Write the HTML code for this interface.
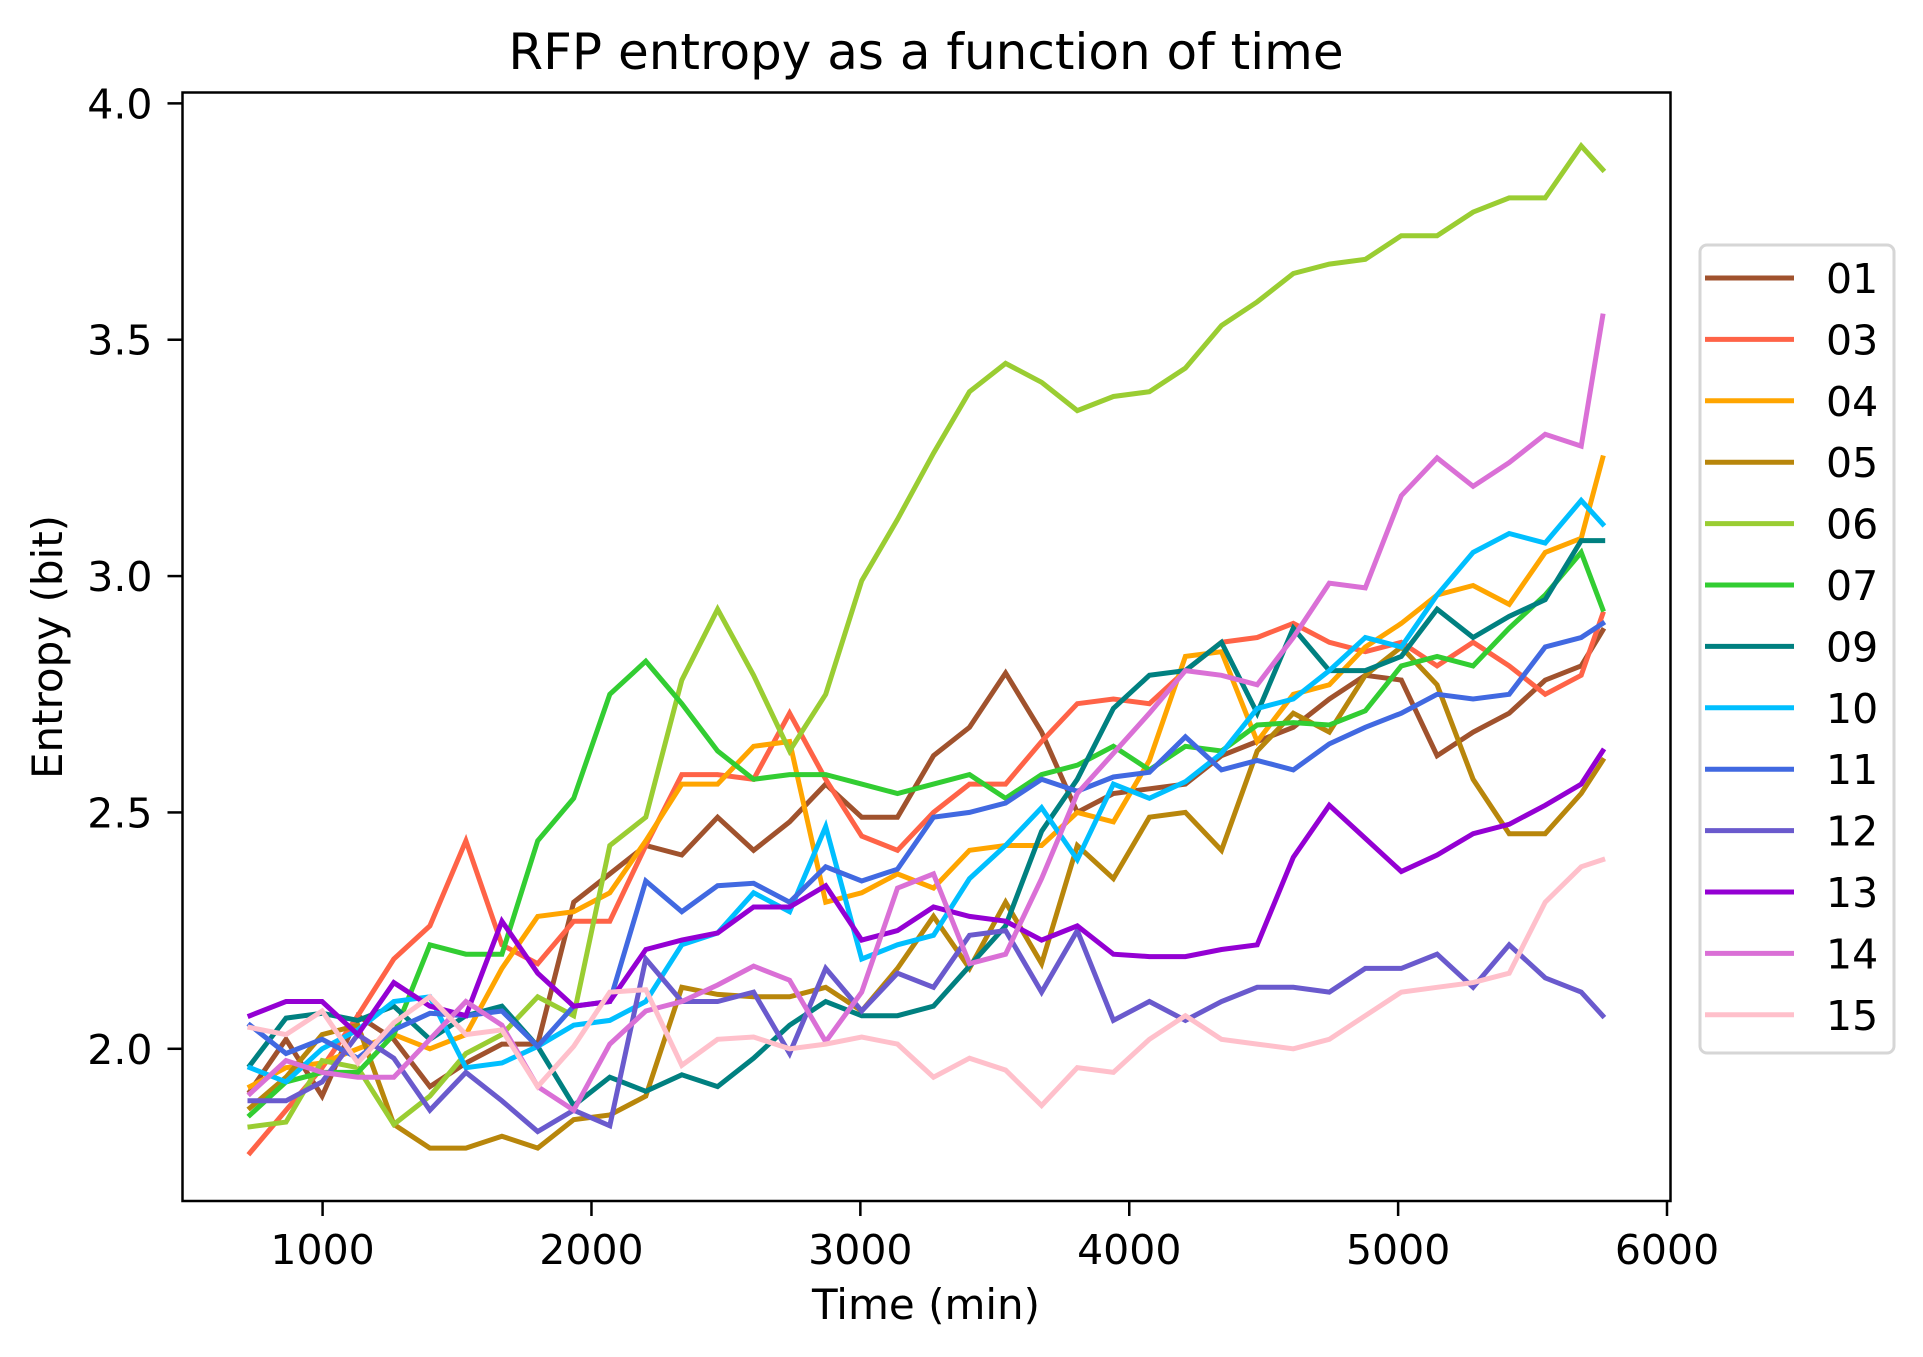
<!DOCTYPE html>
<html><head><meta charset="utf-8"><style>
html,body{margin:0;padding:0;background:#fff;}
svg{display:block;font-family:"DejaVu Sans","Liberation Sans",sans-serif;}
</style></head><body>
<svg id="chart" xmlns="http://www.w3.org/2000/svg" width="1923" height="1357" viewBox="0 0 1923 1357">
<rect width="1923" height="1357" fill="#fff"/>
<text x="926" y="69" font-size="50" text-anchor="middle">RFP entropy as a function of time</text>
<g id="plot"></g>
<text x="926" y="1319" font-size="42" text-anchor="middle">Time (min)</text>
<text x="0" y="0" font-size="42" text-anchor="middle" transform="translate(62,647) rotate(-90)">Entropy (bit)</text>
<g id="legend"></g>
</svg>
<script>
const times = [730,864,998,1131,1265,1399,1533,1667,1800,1934,2068,2202,2336,2469,2603,2737,2871,3005,3138,3272,3406,3540,3674,3807,3941,4075,4209,4343,4476,4610,4744,4878,5012,5145,5279,5413,5547,5681,5761];
const seriesNames = ["01","03","04","05","06","07","09","10","11","12","13","14","15"];
const seriesColors = ["#a0522d","#ff6347","#ffa500","#b8860b","#9acd32","#32cd32","#008080","#00bfff","#4169e1","#6a5acd","#9400d3","#da70d6","#ffc0cb"];
const s01 = [1.91,2.02,1.90,2.07,2.02,1.92,1.97,2.01,2.01,2.31,2.37,2.43,2.41,2.49,2.42,2.48,2.56,2.49,2.49,2.62,2.68,2.795,2.67,2.50,2.54,2.55,2.56,2.62,2.65,2.68,2.74,2.79,2.78,2.62,2.67,2.71,2.78,2.81,2.885];
const s03 = [1.78,1.87,1.96,2.07,2.19,2.26,2.44,2.22,2.18,2.27,2.27,2.43,2.58,2.58,2.57,2.71,2.57,2.45,2.42,2.50,2.56,2.56,2.65,2.73,2.74,2.73,2.80,2.86,2.87,2.90,2.86,2.84,2.86,2.81,2.86,2.81,2.75,2.79,2.92];
const s04 = [1.92,1.96,1.97,2.00,2.03,2.00,2.03,2.17,2.28,2.29,2.33,2.44,2.56,2.56,2.64,2.65,2.31,2.33,2.37,2.34,2.42,2.43,2.43,2.50,2.48,2.61,2.83,2.84,2.65,2.75,2.77,2.85,2.90,2.96,2.98,2.94,3.05,3.08,3.25];
const s05 = [1.875,1.94,2.03,2.05,1.84,1.79,1.79,1.815,1.79,1.85,1.86,1.90,2.13,2.115,2.11,2.11,2.13,2.08,2.17,2.28,2.17,2.31,2.18,2.43,2.36,2.49,2.50,2.42,2.63,2.71,2.67,2.79,2.85,2.77,2.57,2.455,2.455,2.54,2.61];
const s06 = [1.835,1.845,1.975,1.96,1.84,1.90,1.99,2.03,2.11,2.07,2.43,2.49,2.78,2.93,2.79,2.63,2.75,2.99,3.12,3.26,3.39,3.45,3.41,3.35,3.38,3.39,3.44,3.53,3.58,3.64,3.66,3.67,3.72,3.72,3.77,3.80,3.80,3.91,3.86];
const s07 = [1.86,1.93,1.95,1.95,2.03,2.22,2.20,2.20,2.44,2.53,2.75,2.82,2.73,2.63,2.57,2.58,2.58,2.56,2.54,2.56,2.58,2.53,2.58,2.60,2.64,2.59,2.64,2.63,2.685,2.69,2.685,2.715,2.81,2.83,2.81,2.89,2.96,3.05,2.93];
const s09 = [1.965,2.065,2.075,2.06,2.09,2.02,2.07,2.09,2.005,1.88,1.94,1.91,1.945,1.92,1.98,2.05,2.10,2.07,2.07,2.09,2.175,2.26,2.46,2.57,2.72,2.79,2.80,2.86,2.71,2.89,2.80,2.80,2.83,2.93,2.87,2.915,2.95,3.075,3.075];
const s10 = [1.96,1.93,2.00,2.04,2.10,2.11,1.96,1.97,2.005,2.05,2.06,2.10,2.22,2.245,2.33,2.29,2.47,2.19,2.22,2.24,2.36,2.43,2.51,2.40,2.56,2.53,2.565,2.625,2.72,2.74,2.80,2.87,2.85,2.96,3.05,3.09,3.07,3.16,3.11];
const s11 = [2.05,1.99,2.02,1.98,2.04,2.075,2.07,2.08,2.005,2.09,2.10,2.355,2.29,2.345,2.35,2.31,2.385,2.355,2.38,2.49,2.50,2.52,2.57,2.545,2.575,2.585,2.66,2.59,2.61,2.59,2.645,2.68,2.71,2.75,2.74,2.75,2.85,2.87,2.90];
const s12 = [1.89,1.89,1.93,2.03,1.98,1.87,1.95,1.89,1.825,1.87,1.837,2.19,2.10,2.10,2.12,1.99,2.17,2.08,2.16,2.13,2.24,2.25,2.12,2.25,2.06,2.10,2.06,2.10,2.13,2.13,2.12,2.17,2.17,2.20,2.13,2.22,2.15,2.12,2.07];
const s13 = [2.07,2.10,2.10,2.03,2.14,2.09,2.07,2.27,2.16,2.09,2.10,2.21,2.23,2.245,2.30,2.30,2.345,2.23,2.25,2.30,2.28,2.27,2.23,2.26,2.20,2.195,2.195,2.21,2.22,2.405,2.515,2.445,2.375,2.41,2.455,2.475,2.515,2.56,2.63];
const s14 = [1.905,1.975,1.95,1.94,1.94,2.02,2.10,2.05,1.92,1.87,2.01,2.08,2.10,2.135,2.175,2.145,2.015,2.12,2.34,2.37,2.18,2.20,2.36,2.54,2.625,2.71,2.80,2.79,2.77,2.87,2.985,2.975,3.17,3.25,3.19,3.24,3.30,3.275,3.55];
const s15 = [2.045,2.03,2.08,1.97,2.055,2.11,2.03,2.04,1.92,2.005,2.12,2.125,1.965,2.02,2.025,2.00,2.01,2.025,2.01,1.94,1.98,1.955,1.88,1.96,1.95,2.02,2.07,2.02,2.01,2.00,2.02,2.07,2.12,2.13,2.14,2.16,2.31,2.385,2.40];
const seriesValues = [s01,s03,s04,s05,s06,s07,s09,s10,s11,s12,s13,s14,s15];
const xTicks = [1000,2000,3000,4000,5000,6000];
const yTicks = [2.0,2.5,3.0,3.5,4.0];
const yTickLabels = ["2.0","2.5","3.0","3.5","4.0"];

const NS = "http://www.w3.org/2000/svg";
const L = 182.5, R = 1670.5, T = 92.5, B = 1201;
const xMin = 479, xMax = 6013, yMin = 1.678, yMax = 4.023;
function xs(v){ return L + (v - xMin) / (xMax - xMin) * (R - L); }
function ys(v){ return B - (v - yMin) / (yMax - yMin) * (B - T); }
function mk(tag, attrs){ const e = document.createElementNS(NS, tag); for (const k in attrs) e.setAttribute(k, attrs[k]); return e; }

const plot = document.getElementById('plot');
seriesValues.forEach((vals, si) => {
  const d = vals.map((v, i) => (i ? 'L' : 'M') + xs(times[i]).toFixed(1) + ',' + ys(v).toFixed(1)).join(' ');
  const p = mk('path', {d: d, fill: 'none', stroke: seriesColors[si], 'stroke-width': 5, 'stroke-linejoin': 'miter', 'stroke-linecap': 'square'});
  
  
  plot.appendChild(p);
});
const frame = mk('rect', {x: L, y: T, width: R - L, height: B - T, fill: 'none', stroke: '#000', 'stroke-width': 2.5});


plot.appendChild(frame);

xTicks.forEach(t => {
  const x = xs(t);
  const tk = mk('line', {x1: x, x2: x, y1: B, y2: B + 15, stroke: '#000', 'stroke-width': 2.5});
  
  
  plot.appendChild(tk);
  const tx = mk('text', {x: x, y: B + 63, 'font-size': 41, 'text-anchor': 'middle'});
  
  
  tx.textContent = String(t);
  plot.appendChild(tx);
});
yTicks.forEach((t, i) => {
  const y = ys(t);
  const tk = mk('line', {x1: L - 15, x2: L, y1: y, y2: y, stroke: '#000', 'stroke-width': 2.5});
  
  
  plot.appendChild(tk);
  const tx = mk('text', {x: L - 30, y: y + 15, 'font-size': 41, 'text-anchor': 'end'});
  
  
  tx.textContent = yTickLabels[i];
  plot.appendChild(tx);
});

const legend = document.getElementById('legend');
const box = mk('rect', {x: 1700, y: 245, width: 194, height: 808, rx: 7, fill: '#fff', 'fill-opacity': 0.8, stroke: '#d6d6d6', 'stroke-width': 3});


legend.appendChild(box);
seriesNames.forEach((n, i) => {
  const y = 278 + i * 61.4;
  const g = mk('g', {});
  
  
  const ln = mk('line', {x1: 1705, x2: 1794, y1: y, y2: y, stroke: seriesColors[i], 'stroke-width': 5});
  
  
  const tx = mk('text', {x: 1826, y: y + 15, 'font-size': 41});
  
  
  tx.textContent = n;
  g.appendChild(ln); g.appendChild(tx);
  legend.appendChild(g);
});
</script>
</body></html>
